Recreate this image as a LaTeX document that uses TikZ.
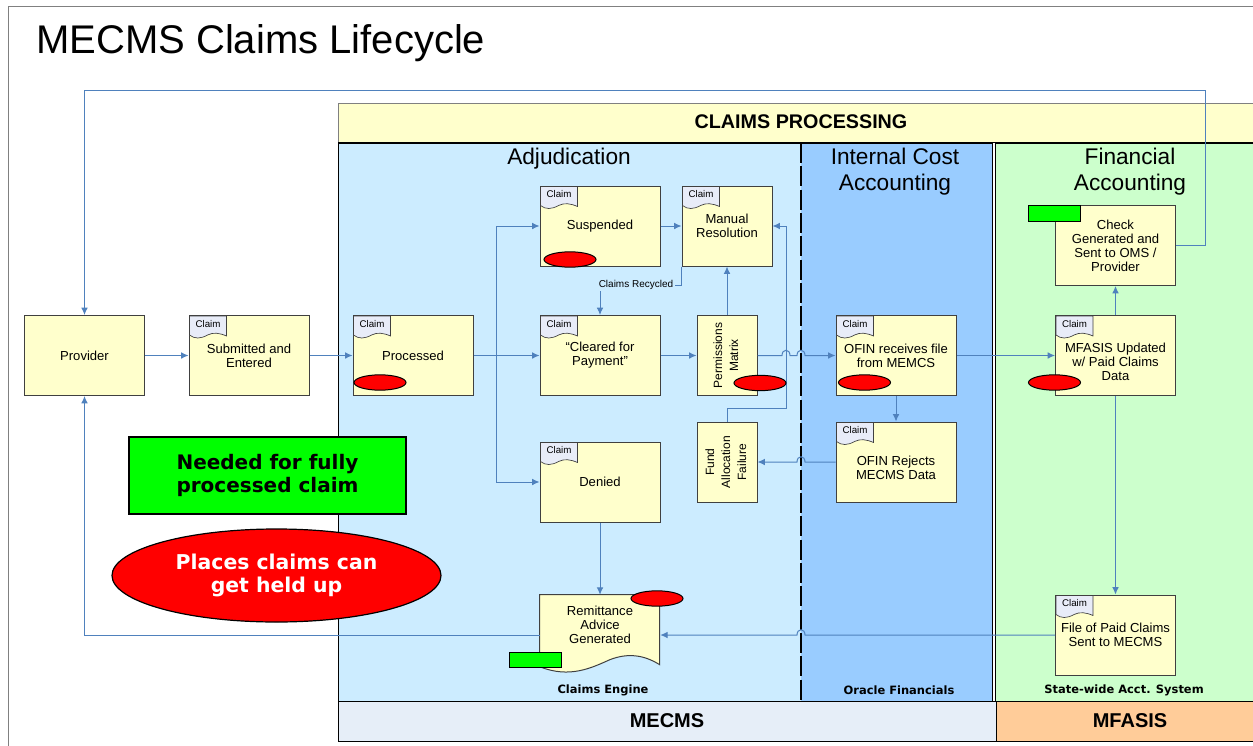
\documentclass[tikz,border=0pt]{standalone}
\usepackage{fontspec}
\setmainfont{Liberation Sans}
\newfontfamily\legendfont{DejaVu Sans}
\usepackage{graphicx}
\usetikzlibrary{shapes.geometric,arrows.meta}

\definecolor{notefill}{HTML}{FFFFCC}
\definecolor{adjudfill}{HTML}{CCECFF}
\definecolor{costfill}{HTML}{99CCFF}
\definecolor{finfill}{HTML}{CCFFCC}
\definecolor{mecmsfill}{HTML}{E6EEF8}
\definecolor{mfasisfill}{HTML}{FFCC99}
\definecolor{tabfill}{HTML}{E8ECF8}
\definecolor{flowblue}{HTML}{4F81BD}
\definecolor{holdred}{HTML}{FF0000}
\definecolor{needgreen}{HTML}{00FF00}
\definecolor{boxline}{HTML}{404040}
\definecolor{framegray}{HTML}{808080}

% small "Claim" document tab on the top left corner of a box
\newcommand\claimtab[1]{%
  \begin{scope}[shift={(#1.north west)}]
    \draw[tabshape] (1,1) -- (38,1) -- (38,21) .. controls (31,18) and (25,17) .. (19,20) .. controls (12,24) and (6,24) .. (1,20) -- cycle;
    \node[tabtext] (#1tab) at (19.5,9) {Claim};
  \end{scope}}

% line jump over a crossing line
\newcommand\hop[3]{-- (#1,#3) .. controls (#1,#3-7) and (#2,#3-7) .. (#2,#3)}

\begin{document}
\begin{tikzpicture}[x=0.75pt, y=-0.75pt]

\tikzset{procbox/.style={draw=boxline, fill=notefill, rectangle, line width=0.75pt, minimum width=90pt, minimum height=60pt, inner sep=2pt, align=center, font=\fontsize{9.8}{10.5}\selectfont}}
\tikzset{rotbox/.style={procbox, minimum width=45pt, font=\fontsize{9}{12}\selectfont}}
\tikzset{docbody/.style={rectangle, minimum width=90pt, minimum height=60pt, inner sep=0pt}}
\tikzset{doctext/.style={align=center, inner sep=0pt, font=\fontsize{9.8}{10.5}\selectfont}}
\tikzset{tabshape/.style={draw=boxline, fill=tabfill, line width=0.5pt}}
\tikzset{tabtext/.style={inner sep=0pt, font=\fontsize{7.3}{8}\selectfont}}
\tikzset{holdup/.style={draw, fill=holdred, ellipse, line width=0.75pt, minimum width=39pt, minimum height=11.5pt, inner sep=0pt}}
\tikzset{needtag/.style={draw, fill=needgreen, rectangle, line width=0.75pt, minimum width=39pt, minimum height=11.5pt, inner sep=0pt}}
\tikzset{flow/.style={draw=flowblue, line width=0.75pt, -{Latex[length=5.5pt, width=5pt]}}}
\tikzset{lanetitle/.style={align=center, inner sep=0pt, font=\fontsize{17}{19}\selectfont}}
\tikzset{bartext/.style={inner sep=0pt, font=\bfseries\fontsize{14.8}{16}\selectfont}}
\tikzset{systext/.style={inner sep=0pt, font=\legendfont\bfseries\fontsize{8.6}{10}\selectfont}}
\tikzset{recycletext/.style={fill=adjudfill, inner sep=1pt, font=\fontsize{7.5}{8}\selectfont}}
\tikzset{needlegend/.style={draw, fill=needgreen, rectangle, line width=0.9pt, minimum width=207.75pt, minimum height=57.75pt, align=center, font=\legendfont\bfseries\fontsize{15}{17.5}\selectfont}}
\tikzset{holdlegend/.style={draw, fill=holdred, ellipse, line width=0.9pt, minimum width=246.75pt, minimum height=69.75pt, inner sep=0pt, align=center, text=white, font=\legendfont\bfseries\fontsize{15.3}{17.5}\selectfont}}

\useasboundingbox (0,0) rectangle (1253,746);

% page frame and title
\draw[framegray] (8,746) -- (8,6) -- (1253,6);
\node[anchor=base west, inner sep=0pt, font=\fontsize{30}{32}\selectfont] (title) at (36,53) {MECMS Claims Lifecycle};

% swim lanes
\fill[notefill] (338,103) rectangle (1253,143);
\draw[framegray] (338,143) -- (338,103) -- (1253,103);
\fill[adjudfill] (338,143) rectangle (801,701);
\fill[costfill] (801,143) rectangle (993,701);
\fill[finfill] (995,143) rectangle (1253,701);
\draw[fill=mecmsfill] (338,701) rectangle (996,741);
\draw[fill=mfasisfill] (996,701) rectangle (1253,741);
\draw[line width=1.1pt] (338,143) -- (1253,143);
\draw (338,143) -- (338,701);
\draw[line width=2.2pt, dash pattern=on 15pt off 2.5pt] (801,143) -- (801,701);
\draw[double, double distance=2pt, line width=0.6pt] (994,143) -- (994,701);

% lane captions
\node[bartext] (cptitle) at (801,122) {CLAIMS PROCESSING};
\node[lanetitle] (adjtitle) at (569,159) {Adjudication};
\node[lanetitle] (costtitle) at (895,171.5) {Internal Cost\\Accounting};
\node[lanetitle] (fintitle) at (1130,171.5) {Financial\\Accounting};
\node[systext] (engine) at (603,690) {Claims Engine};
\node[systext] (oracle) at (899,690) {Oracle Financials};
\node[systext] (statewide) at (1124,690) {State-wide Acct. System};
\node[bartext, font=\bfseries\fontsize{15}{16}\selectfont] (mecmsbar) at (667,721) {MECMS};
\node[bartext, font=\bfseries\fontsize{15}{16}\selectfont] (mfasisbar) at (1130,721) {MFASIS};

% claim steps
\node[procbox] (provider) at (84.5,355.5) {Provider};
\node[procbox] (submitted) at (249,355.5) {Submitted and\\Entered};
\node[procbox] (processed) at (413,355.5) {Processed};
\node[procbox] (suspended) at (600,226) {Suspended};
\node[procbox, minimum width=67.5pt] (manual) at (727,226) {Manual\\Resolution};
\node[procbox] (cleared) at (600,355.5) {“Cleared for\\Payment”};
\node[rotbox] (permissions) at (727,355.5) {\rotatebox{90}{\begin{tabular}{@{}c@{}}Permissions\\Matrix\end{tabular}}};
\node[rotbox] (fund) at (727,462) {\rotatebox{90}{\begin{tabular}{@{}c@{}}Fund\\Allocation\\Failure\end{tabular}}};
\node[procbox] (denied) at (600,482) {Denied};
\node[docbody] (remit) at (600,635) {};
\node[procbox] (ofin) at (896,355.5) {OFIN receives file\\from MEMCS};
\node[procbox] (ofinrej) at (896,462) {};
\node[doctext] (ofinrejtext) at (896,468) {OFIN Rejects\\MECMS Data};
\node[procbox] (check) at (1115.5,245.5) {Check\\Generated and\\Sent to OMS /\\Provider};
\node[procbox] (mfupd) at (1115.5,355.5) {};
\node[doctext] (mfupdtext) at (1115.5,362) {MFASIS Updated\\w/ Paid Claims\\Data};
\node[procbox] (filepaid) at (1115.5,635) {File of Paid Claims\\Sent to MECMS};

% remittance advice document
\begin{scope}[shift={(remit.north west)}]
  \draw[draw=boxline, fill=notefill, line width=0.75pt] (0,0) -- (120,0) -- (120,70) .. controls (104,60) and (88,58) .. (70,65) .. controls (52,73) and (30,84) .. (0,72) -- cycle;
\end{scope}
\node[doctext] (remittext) at (600,625) {Remittance\\Advice\\Generated};

% claim tabs
\claimtab{submitted}
\claimtab{processed}
\claimtab{suspended}
\claimtab{manual}
\claimtab{cleared}
\claimtab{denied}
\claimtab{ofin}
\claimtab{ofinrej}
\claimtab{mfupd}
\claimtab{filepaid}

% interactions
\coordinate (split) at (496,355.5);
\coordinate (recycle) at (600,285);
\coordinate (fundloop) at (786,408);
\coordinate (toploop) at (1205,90);
\draw[flow] (provider) -- (submitted);
\draw[flow] (submitted) -- (processed);
\draw[flow] (processed) -- (cleared);
\draw[flow] (split) |- (suspended);
\draw[flow] (split) |- (denied);
\draw[flow] (suspended) -- (manual);
\draw[flow] (cleared) -- (permissions);
\draw[flow] (permissions) -- (manual);
\draw[flow] (manual.south west) |- (recycle) -- (cleared);
\draw[flow] (fund) |- (fundloop) |- (manual);
\draw[flow] (permissions) \hop{782}{790}{355.5} \hop{797}{805}{355.5} -- (ofin);
\draw[flow] (ofin) -- (ofinrej);
\draw[flow] (ofinrej) \hop{805}{797}{462} -- (fund);
\draw[flow] (ofin) -- (mfupd);
\draw[flow] (mfupd) -- (check);
\draw[flow] (mfupd) -- (filepaid);
\draw[flow] (filepaid) \hop{805}{797}{635} -- (remit);
\draw[flow] (denied) -- (remit);
\draw[flow] (remit) -| (provider);
\draw[flow] (check) -| (toploop) -| (provider);
\node[recycletext] (recycled) at (636,285) {Claims Recycled};

% hold-up points and needed steps
\node[holdup] (holdprocessed) at (380,382.5) {};
\node[holdup] (holdsuspended) at (570,259.5) {};
\node[holdup] (holdpermissions) at (760,383) {};
\node[holdup] (holdremit) at (657,598.5) {};
\node[holdup] (holdofin) at (864.5,382.5) {};
\node[holdup] (holdmfupd) at (1054.5,382.5) {};
\node[needtag] (needremit) at (535.5,660) {};
\node[needtag] (needcheck) at (1054.5,213.5) {};

% legend
\node[needlegend] (needed) at (267.5,475.5) {Needed for fully\\processed claim};
\node[holdlegend] (heldup) at (276.5,575.5) {Places claims can\\get held up};

\end{tikzpicture}
\end{document}
